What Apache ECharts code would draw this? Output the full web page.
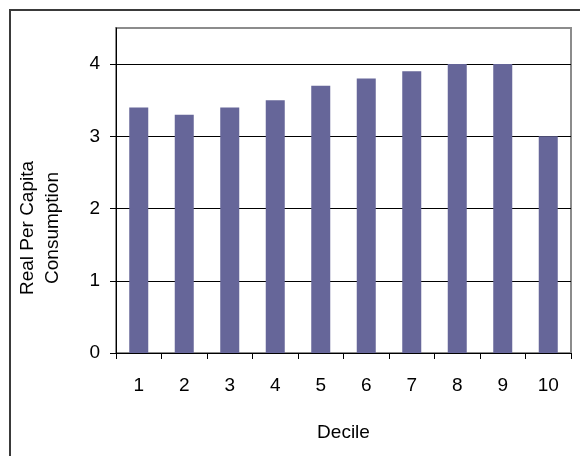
<!DOCTYPE html>
<html>
<head>
<meta charset="utf-8">
<script src="https://cdn.jsdelivr.net/npm/echarts@6/dist/echarts.min.js"></script>
<style>
html,body{margin:0;padding:0;background:#fff;}
#chart{width:580px;height:456px;}
</style>
</head>
<body>
<div id="chart"></div>
<script>
var categories = ['1','2','3','4','5','6','7','8','9','10'];
var consumption = [3.4, 3.3, 3.4, 3.5, 3.7, 3.8, 3.9, 4.0, 4.0, 3.0];
var yTicks = [0, 1, 2, 3, 4];
var xTitle = 'Decile';
var yTitle = 'Real Per Capita\nConsumption';

var FONT = '"Liberation Sans", Arial, sans-serif';
var chart = echarts.init(document.getElementById('chart'), null, {renderer:'canvas'});
chart.setOption({
  animation: false,
  backgroundColor: '#fff',
  grid: {left:116, top:28, right:9, bottom:103, show:true, borderColor:'#8c8c8c', borderWidth:2, backgroundColor:'transparent'},
  xAxis: {
    type:'category', data:categories,
    name: xTitle, nameLocation:'middle', nameGap:70,
    nameTextStyle:{fontFamily:FONT, fontSize:19, color:'#000'},
    axisLine:{lineStyle:{color:'#000', width:1}},
    axisTick:{show:true, alignWithLabel:false, length:6, lineStyle:{color:'#000'}},
    axisLabel:{fontFamily:FONT, fontSize:19, color:'#000', margin:23}
  },
  yAxis: {
    type:'value', min:0, max:4.5, interval:1,
    axisLine:{show:true, lineStyle:{color:'#000', width:1}},
    axisTick:{show:true, length:6, lineStyle:{color:'#000'}, customValues: yTicks},
    axisLabel:{fontFamily:FONT, fontSize:19, color:'#000', margin:16, customValues: yTicks},
    splitLine:{show:true, showMinLine:false, lineStyle:{color:'#000', width:1}}
  },
  graphic: [
    {type:'rect', shape:{x:10, y:10, width:620, height:500}, style:{fill:'none', stroke:'#3a3a3a', lineWidth:2}, silent:true, z:100},
    {type:'text', x:40, y:228, rotation:Math.PI/2,
     style:{text:yTitle, font:'19px ' + FONT, fill:'#000', align:'center', verticalAlign:'middle', lineHeight:25}}
  ],
  series: [{
    type:'bar', data:consumption, barWidth:19,
    itemStyle:{color:'#666699'}
  }]
});
</script>
</body>
</html>
